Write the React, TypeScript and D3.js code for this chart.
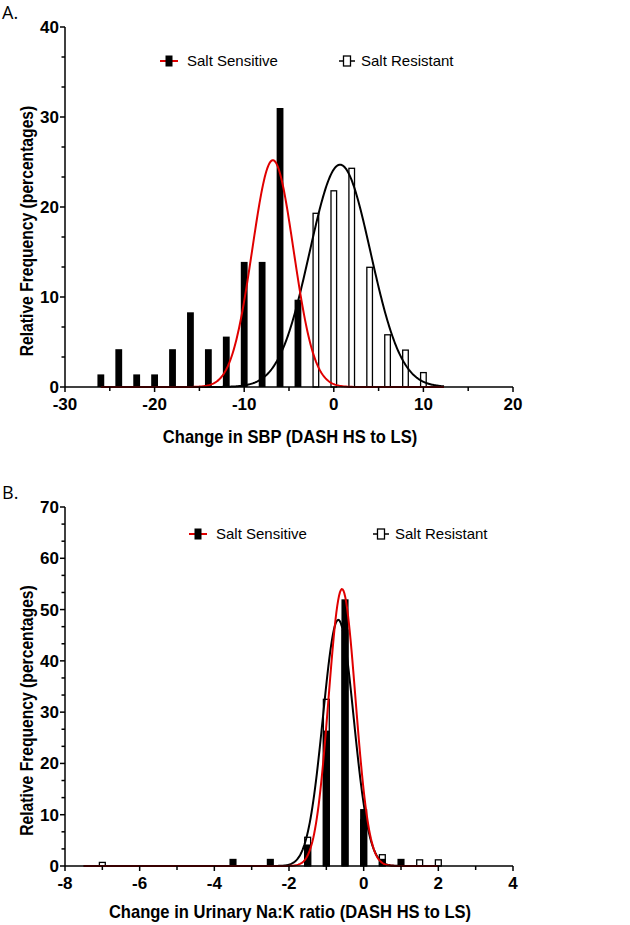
import React from "react";
import * as d3 from "d3";

// ---- panel A: change in SBP ----
const binsSensA = [-26, -24, -22, -20, -18, -16, -14, -12, -10, -8, -6, -4];
const pctSensA = [1.4, 4.2, 1.4, 1.4, 4.2, 8.3, 4.2, 5.6, 13.9, 13.9, 31, 9.7];
const binsResA = [-2, 0, 2, 4, 6, 8, 10];
const pctResA = [19.3, 21.8, 24.3, 13.3, 5.8, 4.1, 1.6];
// gaussian fits: [mean, sd, peak]
const fitSensA = [-6.8, 2.3, 25.2];
const fitResA = [0.7, 3.4, 24.7];
const fitRangeA = [-26, 12.3];
const xTicksA = [-30, -20, -10, 0, 10, 20];
const yTicksA = [0, 10, 20, 30, 40];

// ---- panel B: change in urinary Na:K ----
const binsSensB = [-3.5, -2.5, -1.5, -1, -0.5, 0, 0.5, 1];
const pctSensB = [1.4, 1.4, 4.2, 26.4, 52, 11.1, 1.4, 1.4];
const binsResB = [-7, -1.5, -1, -0.5, 0, 0.5, 1.5, 2];
const pctResB = [0.7, 5.6, 32.5, 46, 9, 2.2, 1.2, 1.2];
const fitSensB = [-0.58, 0.36, 54];
const fitResB = [-0.68, 0.41, 48];
const fitRangeB = [-7.5, 2.0];
const xTicksB = [-8, -6, -4, -2, 0, 2, 4];
const yTicksB = [0, 10, 20, 30, 40, 50, 60, 70];

const FONT = "'Liberation Sans', Arial, sans-serif";

function gauss(fit: number[], range: number[]) {
  const [mu, sd, peak] = fit;
  return d3.range(range[0], range[1] + 1e-9, (range[1] - range[0]) / 400).map((x) => [
    x,
    peak * Math.exp(-((x - mu) ** 2) / (2 * sd * sd)),
  ]);
}

function Panel(props: any) {
  const {
    top, bottom, xDomain, yMax, xTicks, xMinor, yTicks, binW,
    binsSens, pctSens, binsRes, pctRes, fitSens, fitRes, fitRange,
    xTitle, titleDy, label, legendX, legendY, resGap, resOnTop,
  } = props;
  const x = d3.scaleLinear().domain(xDomain).range([65, 513]);
  const y = d3.scaleLinear().domain([0, yMax]).range([bottom, top]);
  const bw = x(binW * 0.38) - x(0);
  const line = d3.line<number[]>().x((d) => x(d[0])).y((d) => y(d[1]));
  const yStep = yTicks[1] - yTicks[0];
  const yMinor: number[] = [];
  yTicks.slice(0, -1).forEach((t: number) => {
    yMinor.push(t + yStep / 3, t + (2 * yStep) / 3);
  });

  const sensBars = binsSens.map((b: number, i: number) => (
    <rect key={"s" + i} x={x(b) - bw / 2} y={y(pctSens[i])} width={bw}
      height={y(0) - y(pctSens[i])} fill="#000" />
  ));
  const resBars = binsRes.map((b: number, i: number) => (
    <rect key={"r" + i} x={x(b) - bw / 2 + 0.6} y={y(pctRes[i])} width={bw - 1.2}
      height={y(0) - y(pctRes[i])} fill="#fff" stroke="#000" strokeWidth={1.3} />
  ));

  return (
    <g fontFamily={FONT}>
      <text x={2} y={top - 8} fontSize={18} fontFamily="'Open Sans', sans-serif">{label}</text>
      {resOnTop ? <>{sensBars}{resBars}</> : <>{resBars}{sensBars}</>}
      <path d={line(gauss(fitRes, fitRange)) || ""} fill="none" stroke="#000" strokeWidth={2} />
      <path d={line(gauss(fitSens, fitRange)) || ""} fill="none" stroke="#e00000" strokeWidth={2} />

      {/* axes */}
      <line x1={x(xDomain[0])} x2={x(xDomain[1])} y1={y(0)} y2={y(0)} stroke="#000" strokeWidth={1.5} />
      <line x1={x(xDomain[0])} x2={x(xDomain[0])} y1={y(0)} y2={y(yMax)} stroke="#000" strokeWidth={1.5} />
      {xTicks.map((t: number) => (
        <g key={"xt" + t}>
          <line x1={x(t)} x2={x(t)} y1={y(0)} y2={y(0) + 5} stroke="#000" strokeWidth={1.5} />
          <text x={x(t)} y={y(0) + 23} textAnchor="middle" fontSize={17} fontWeight="bold">{t}</text>
        </g>
      ))}
      {xMinor.map((t: number) => (
        <line key={"xm" + t} x1={x(t)} x2={x(t)} y1={y(0)} y2={y(0) + 4} stroke="#000" strokeWidth={1.5} />
      ))}
      {yTicks.map((t: number) => (
        <g key={"yt" + t}>
          <line x1={x(xDomain[0]) - 5} x2={x(xDomain[0])} y1={y(t)} y2={y(t)} stroke="#000" strokeWidth={1.5} />
          <text x={x(xDomain[0]) - 6} y={y(t) + 6} textAnchor="end" fontSize={17} fontWeight="bold">{t}</text>
        </g>
      ))}
      {yMinor.map((t: number) => (
        <line key={"ym" + t} x1={x(xDomain[0]) - 3.5} x2={x(xDomain[0])} y1={y(t)} y2={y(t)} stroke="#000" strokeWidth={1.5} />
      ))}
      <text transform={`translate(290,${y(0) + titleDy}) scale(0.92,1)`} textAnchor="middle"
        fontSize={18} fontWeight="bold">{xTitle}</text>
      <text transform={`translate(33,${(y(0) + y(yMax)) / 2 + 24}) rotate(-90) scale(0.87,1)`} textAnchor="middle"
        fontSize={18} fontWeight="bold">Relative Frequency (percentages)</text>

      {/* legend */}
      <g transform={`translate(${legendX},${legendY})`} fontSize={15}>
        <line x1={-9} x2={9} y1={0} y2={0} stroke="#e00000" strokeWidth={2} />
        <rect x={-3.5} y={-5.5} width={7} height={11} fill="#000" />
        <text x={18} y={5}>Salt Sensitive</text>
        <line x1={resGap} x2={resGap + 16} y1={0} y2={0} stroke="#000" strokeWidth={1.5} />
        <rect x={resGap + 4.5} y={-5} width={7} height={10} fill="#fff" stroke="#000" strokeWidth={1.3} />
        <text x={resGap + 22} y={5}>Salt Resistant</text>
      </g>
    </g>
  );
}

export default function App() {
  return (
    <div style={{ position: "absolute", left: 0, top: 0 }}>
      <svg width={630} height={925} style={{ display: "block", background: "#fff" }}>
        <Panel top={27} bottom={387} xDomain={[-30, 20]} yMax={40} xTicks={xTicksA}
          xMinor={[-25, -15, -5, 5, 15]} yTicks={yTicksA} binW={2}
          binsSens={binsSensA} pctSens={pctSensA} binsRes={binsResA} pctRes={pctResA}
          fitSens={fitSensA} fitRes={fitResA} fitRange={fitRangeA} titleDy={56}
          xTitle="Change in SBP (DASH HS to LS)" label="A." legendX={169} legendY={61}
          resGap={170} resOnTop />
        <Panel top={507} bottom={866} xDomain={[-8, 4]} yMax={70} xTicks={xTicksB}
          xMinor={[-7, -5, -3, -1, 1, 3]} yTicks={yTicksB} binW={0.5}
          binsSens={binsSensB} pctSens={pctSensB} binsRes={binsResB} pctRes={pctResB}
          fitSens={fitSensB} fitRes={fitResB} fitRange={fitRangeB} titleDy={52}
          xTitle="Change in Urinary Na:K ratio (DASH HS to LS)" label="B." legendX={198} legendY={534}
          resGap={175} />
      </svg>
    </div>
  );
}
